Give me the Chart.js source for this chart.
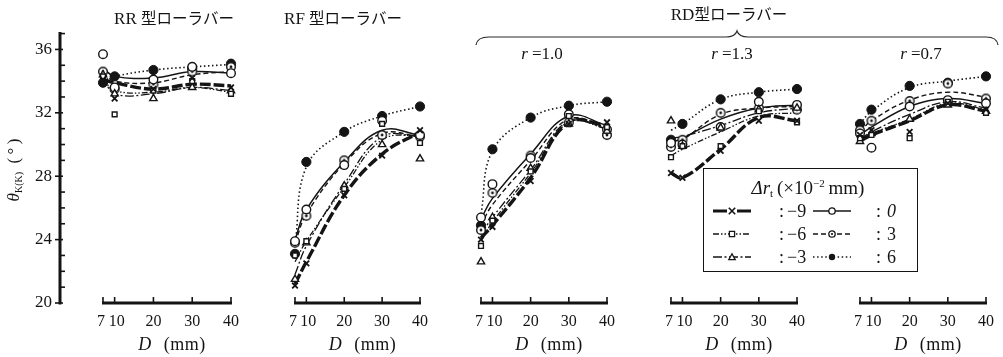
<!DOCTYPE html>
<html>
<head>
<meta charset="utf-8">
<script src="https://cdn.jsdelivr.net/npm/chart.js@4/dist/chart.umd.min.js"></script>
<style>
  html, body { margin: 0; padding: 0; background: #fff; }
  #wrap { position: relative; width: 1003px; height: 357px; overflow: hidden; background: #fff;
          font-family: "Liberation Serif", "DejaVu Serif", serif; color: #141414; }
  #wrap canvas { position: absolute; top: 0; }
  .t { position: absolute; white-space: nowrap; transform: translate(-50%, -50%); line-height: 1; z-index: 3; }
  .jp { font-family: "Noto Sans CJK JP", sans-serif; font-size: 15.5px; }
  .ttl { font-size: 17px; }
  .axt { font-size: 18px; letter-spacing: 0.5px; }
  .axt i { margin-right: 12px; }
  #ytitle { position: absolute; left: 14px; top: 170px; transform: translate(-50%, -50%) rotate(-90deg);
            white-space: nowrap; font-size: 17px; line-height: 1; z-index: 3; }
  #ytitle sub { font-size: 10px; vertical-align: -3px; }
  #legend { position: absolute; left: 703px; top: 168px; width: 215px; height: 104px; box-sizing: border-box;
            border: 1.5px solid #141414; background: #fff; z-index: 4; }
  #legend .h { position: absolute; left: 104px; top: 19px; transform: translate(-50%, -50%); white-space: nowrap;
               font-size: 19px; line-height: 1; }
  #legend .h sup { font-size: 11px; vertical-align: 7px; }
  #legend .h sub { font-size: 11px; vertical-align: -3px; }
  #legend .lb { position: absolute; font-size: 18px; line-height: 1; transform: translateY(-50%); white-space: nowrap; }
  #legend canvas { position: absolute; }
  svg { position: absolute; left: 0; top: 0; z-index: 2; }
</style>
</head>
<body>
<div id="wrap">
  <svg width="1003" height="357">
    <path d="M476,45 Q477,37 489,37 L726,37 Q735,37 737,31 Q739,37 748,37 L986,37 Q997,37 998,45"
          fill="none" stroke="#2a2a2a" stroke-width="1.2"/>
  </svg>
  <div id="ytitle"><i>θ</i><sub>K(K)</sub>&nbsp;&nbsp;(&thinsp;°&thinsp;)</div>
</div>
<script>
// ---- data -------------------------------------------------------------
const dValues = [7, 10, 20, 30, 40];               // roller diameter D (mm)
const deltaR = ['−9', '−6', '−3', '0', '3', '6'];  // Δr_t (×10^-2 mm)
const yTickLabels = [20, 24, 28, 32, 36];
const xTickLabels = [7, 10, 20, 30, 40];
const panelTitles = ['RR', 'RF', 'RD'];
const ratioLabels = ['1.0', '1.3', '0.7'];

// measured points, one row per Δr_t (−9, −6, −3, 0, 3, 6)
const rrPoints = [
  [34.1, 32.9, 33.5, 34.2, 33.6],
  [34.3, 31.9, 33.4, 34.0, 33.2],
  [34.4, 33.2, 32.9, 33.6, 33.4],
  [35.7, 33.6, 34.1, 34.9, 34.5],
  [34.6, 33.5, 33.8, 34.6, 34.9],
  [33.9, 34.3, 34.7, 34.8, 35.1]
];
// smoothed curves, same row order
const rrCurves = [
  [34.1, 33.9, 33.5, 33.8, 33.7],
  [34.2, 33.4, 33.3, 33.6, 33.3],
  [34.3, 33.2, 33.2, 33.6, 33.4],
  [34.8, 34.3, 34.2, 34.6, 34.5],
  [34.5, 34.0, 33.9, 34.4, 34.6],
  [34.0, 34.3, 34.7, 34.9, 35.05]
];

const rfPoints = [
  [21.1, 22.5, 26.8, 29.3, 30.9],
  [23.0, 23.9, 27.2, 31.3, 30.1],
  [21.5, 23.8, 27.4, 30.0, 29.1],
  [23.9, 25.9, 28.7, 31.5, 30.6],
  [23.8, 25.5, 29.0, 30.6, 30.5],
  [23.1, 28.9, 30.8, 31.8, 32.4]
];
const rfCurves = [
  [21.2, 22.6, 26.8, 29.4, 30.8],
  [22.6, 23.9, 27.3, 30.3, 30.6],
  [21.8, 23.6, 27.5, 30.5, 30.5],
  [24.0, 25.9, 28.9, 30.9, 30.6],
  [23.8, 25.6, 28.8, 30.7, 30.5],
  [23.6, 28.6, 30.8, 31.8, 32.4]
];

const rd10Points = [
  [24.0, 24.8, 27.7, 31.3, 31.4],
  [23.6, 25.2, 28.3, 31.8, 31.1],
  [22.6, 25.4, 28.5, 31.3, 30.85],
  [25.4, 27.5, 29.15, 31.9, 30.95],
  [24.6, 26.95, 29.3, 31.4, 30.6],
  [24.9, 29.7, 31.7, 32.45, 32.7]
];
const rd10Curves = [
  [24.1, 24.9, 27.9, 31.4, 31.2],
  [23.9, 25.1, 28.2, 31.4, 31.0],
  [24.3, 25.4, 28.4, 31.5, 31.0],
  [25.3, 26.6, 29.4, 31.8, 31.2],
  [24.9, 26.2, 29.0, 31.6, 31.1],
  [25.6, 29.6, 31.7, 32.45, 32.7]
];

const rd13Points = [
  [28.2, 27.9, 29.6, 31.5, 31.5],
  [29.2, 29.9, 29.9, 32.1, 31.4],
  [31.5, 29.9, 31.05, 32.2, 32.3],
  [30.1, 30.0, 31.1, 32.7, 32.5],
  [29.85, 30.3, 32.0, 32.3, 32.2],
  [30.3, 31.3, 32.85, 33.3, 33.5]
];
const rd13Curves = [
  [28.2, 27.9, 29.7, 31.7, 31.5],
  [29.3, 29.7, 30.8, 31.8, 32.0],
  [30.4, 30.5, 31.2, 32.0, 32.3],
  [30.1, 30.4, 31.6, 32.3, 32.5],
  [30.0, 30.3, 31.9, 32.3, 32.4],
  [30.9, 31.3, 32.85, 33.3, 33.5]
];

const rd07Points = [
  [30.6, 30.9, 30.8, 32.6, 32.2],
  [30.4, 30.6, 30.4, 32.7, 32.0],
  [30.2, 30.7, 31.6, 32.5, 32.1],
  [30.7, 29.8, 32.4, 32.8, 32.6],
  [30.9, 31.5, 32.75, 33.85, 32.9],
  [31.3, 32.2, 33.7, 33.9, 34.3]
];
const rd07Curves = [
  [30.2, 30.6, 31.5, 32.5, 32.1],
  [30.4, 30.7, 31.6, 32.6, 32.2],
  [30.3, 30.8, 31.9, 32.7, 32.3],
  [30.6, 31.1, 32.4, 32.9, 32.6],
  [30.8, 31.5, 32.8, 33.3, 33.0],
  [31.3, 32.1, 33.6, 34.0, 34.3]
];

// ---- layout & styles ----------------------------------------------------
const W = 1003, H = 357;
const INK = '#141414';
const SERIF = '"Liberation Serif", "DejaVu Serif", serif';
const Y_MIN = 20, Y_MAX = 37.1;
const TOP = 32;          // pixel row of Y_MAX
const AXIS_Y = 303;      // pixel row of Y_MIN (x-axis line)
const Y_AXIS_X = 60;
const panelX = [[103, 233], [295, 422], [481, 609], [671, 799], [860, 988]];

function dottedCircle(size, r) {
  const c = document.createElement('canvas');
  c.width = size; c.height = size;
  const g = c.getContext('2d');
  const m = size / 2;
  g.fillStyle = '#fff';
  g.beginPath(); g.arc(m, m, r, 0, Math.PI * 2); g.fill();
  g.lineWidth = 1.4; g.strokeStyle = INK; g.stroke();
  g.fillStyle = INK;
  g.beginPath(); g.arc(m, m, 1.4, 0, Math.PI * 2); g.fill();
  return c;
}

const seriesStyle = [
  { ps: 'crossRot', r: 4,   bg: INK,    pw: 1.8, lw: 3.4, dash: [11, 3],            kind: 'x' },
  { ps: 'rect',     r: 3.4, bg: '#fff', pw: 1.4, lw: 1.3, dash: [6, 2, 1.5, 2, 1.5, 2], kind: 'rect' },
  { ps: 'triangle', r: 4.2, bg: '#fff', pw: 1.4, lw: 1.3, dash: [9, 2.5, 2, 2.5],   kind: 'tri' },
  { ps: 'circle',   r: 4.3, bg: '#fff', pw: 1.4, lw: 1.5, dash: [],                 kind: 'circ' },
  { ps: dottedCircle(12, 4.3), r: 4.3, bg: '#fff', pw: 1.4, lw: 1.4, dash: [5, 3],  kind: 'dot' },
  { ps: 'circle',   r: 4.6, bg: INK,    pw: 1,   lw: 1.6, dash: [1.5, 2.6],         kind: 'fill' }
];

const wrap = document.getElementById('wrap');

// ---- plugins ------------------------------------------------------------
const panelAxis = {
  id: 'panelAxis',
  afterDraw(chart) {
    const ctx = chart.ctx, xs = chart.scales.x, ys = chart.scales.y;
    const y0 = ys.getPixelForValue(Y_MIN);
    ctx.save();
    ctx.strokeStyle = INK;
    ctx.lineWidth = 3;
    ctx.beginPath();
    ctx.moveTo(xs.getPixelForValue(dValues[0]) - 1, y0);
    ctx.lineTo(xs.getPixelForValue(dValues[dValues.length - 1]) + 1, y0);
    ctx.stroke();
    ctx.lineWidth = 1.6;
    xTickLabels.forEach(v => {
      const x = xs.getPixelForValue(v);
      ctx.beginPath(); ctx.moveTo(x, y0); ctx.lineTo(x, y0 - 6); ctx.stroke();
    });
    ctx.restore();
  }
};

const leftAxis = {
  id: 'leftAxis',
  afterDraw(chart) {
    const ctx = chart.ctx, ys = chart.scales.y;
    const x = chart.chartArea.left;
    ctx.save();
    ctx.strokeStyle = INK;
    ctx.lineWidth = 3;
    ctx.beginPath();
    ctx.moveTo(x, ys.getPixelForValue(Y_MAX));
    ctx.lineTo(x, ys.getPixelForValue(Y_MIN) + 1.5);
    ctx.stroke();
    ctx.lineWidth = 1.6;
    for (let v = Y_MIN; v <= Math.floor(Y_MAX); v++) {
      const y = ys.getPixelForValue(v);
      ctx.beginPath();
      if (v % 4 === 0) { ctx.moveTo(x - 5, y); ctx.lineTo(x + 3, y); }
      else { ctx.moveTo(x, y); ctx.lineTo(x + 5, y); }
      ctx.stroke();
    }
    ctx.restore();
  }
};

function addCanvas(left, width) {
  const cv = document.createElement('canvas');
  cv.width = width; cv.height = H;
  cv.style.left = left + 'px';
  cv.style.width = width + 'px';
  cv.style.height = H + 'px';
  wrap.appendChild(cv);
  return cv;
}

const baseOpts = {
  responsive: false,
  animation: false,
  events: [],
  plugins: { legend: { display: false }, tooltip: { enabled: false } }
};

// ---- shared y axis --------------------------------------------------------
new Chart(addCanvas(0, 80), {
  type: 'line',
  data: { datasets: [] },
  options: Object.assign({}, baseOpts, {
    layout: { padding: { left: 0, right: 0, top: TOP, bottom: H - AXIS_Y } },
    scales: {
      x: { display: false },
      y: {
        type: 'linear', min: Y_MIN, max: Y_MAX,
        afterBuildTicks: s => { s.ticks = yTickLabels.map(v => ({ value: v })); },
        afterFit: s => { s.width = Y_AXIS_X; },
        grid: { display: false, drawTicks: false },
        border: { display: false },
        ticks: { padding: 8, color: INK, font: { family: SERIF, size: 17 } }
      }
    }
  }),
  plugins: [leftAxis]
});

// ---- panels -------------------------------------------------------------
function makePanel(points, curves, x0, x1) {
  const pad = 15;
  const cv = addCanvas(x0 - pad, (x1 - x0) + 2 * pad);
  const datasets = [];
  curves.forEach((row, s) => {
    const st = seriesStyle[s];
    datasets.push({
      type: 'line', order: 2,
      data: dValues.map((d, k) => ({ x: d, y: row[k] })),
      borderColor: INK, borderWidth: st.lw, borderDash: st.dash,
      pointRadius: 0, tension: 0.4, fill: false, clip: false
    });
  });
  points.forEach((row, s) => {
    const st = seriesStyle[s];
    datasets.push({
      type: 'scatter', order: 1, showLine: false,
      data: dValues.map((d, k) => ({ x: d, y: row[k] })),
      pointStyle: st.ps, pointRadius: st.r, pointBackgroundColor: st.bg,
      pointBorderColor: INK, pointBorderWidth: st.pw, clip: false
    });
  });
  new Chart(cv, {
    type: 'line',
    data: { datasets },
    options: Object.assign({}, baseOpts, {
      layout: { padding: { left: pad, right: pad, top: TOP, bottom: 0 } },
      scales: {
        x: {
          type: 'linear', min: dValues[0], max: dValues[dValues.length - 1],
          afterBuildTicks: s => { s.ticks = xTickLabels.map(v => ({ value: v })); },
          afterFit: s => { s.height = H - AXIS_Y; },
          grid: { display: false, drawTicks: false },
          border: { display: false },
          ticks: {
            autoSkip: false, maxRotation: 0, minRotation: 0, padding: 9, color: INK,
            font: { family: SERIF, size: 16 },
            callback: v => (v === 7 ? '7\u2005' : v === 10 ? '\u200510' : String(v))
          }
        },
        y: { type: 'linear', display: false, min: Y_MIN, max: Y_MAX }
      }
    }),
    plugins: [panelAxis]
  });
}

const panelData = [
  [rrPoints, rrCurves], [rfPoints, rfCurves],
  [rd10Points, rd10Curves], [rd13Points, rd13Curves], [rd07Points, rd07Curves]
];
panelData.forEach(([p, c], i) => makePanel(p, c, panelX[i][0], panelX[i][1]));

// ---- text -----------------------------------------------------------------
function addText(html, x, y, cls) {
  const d = document.createElement('div');
  d.className = 't ' + (cls || '');
  d.style.left = x + 'px';
  d.style.top = y + 'px';
  d.innerHTML = html;
  wrap.appendChild(d);
}
addText(panelTitles[0] + '&nbsp;<span class="jp">型ローラバー</span>', 174, 18, 'ttl');
addText(panelTitles[1] + '&nbsp;<span class="jp">型ローラバー</span>', 343, 18, 'ttl');
addText(panelTitles[2] + '<span class="jp">型ローラバー</span>', 729, 14, 'ttl');
[2, 3, 4].forEach((p, k) => {
  const cx = (panelX[p][0] + panelX[p][1]) / 2 - 3;
  addText('<i>r</i>&nbsp;=' + ratioLabels[k], cx, 53, 'ttl');
});
panelX.forEach(([a, b]) => addText('<i>D</i>(mm)', (a + b) / 2 + 4, 344, 'axt'));

// ---- legend -----------------------------------------------------------------
function drawMarker(g, kind, x, y) {
  g.strokeStyle = INK; g.fillStyle = '#fff'; g.lineWidth = 1.3;
  const r = 3.2;
  g.beginPath();
  if (kind === 'x') {
    g.lineWidth = 1.6;
    g.moveTo(x - r, y - r); g.lineTo(x + r, y + r);
    g.moveTo(x + r, y - r); g.lineTo(x - r, y + r);
    g.stroke();
  } else if (kind === 'rect') {
    g.rect(x - 2.6, y - 2.6, 5.2, 5.2); g.fill(); g.stroke();
  } else if (kind === 'tri') {
    g.moveTo(x, y - r); g.lineTo(x + r, y + r * 0.8); g.lineTo(x - r, y + r * 0.8); g.closePath();
    g.fill(); g.stroke();
  } else {
    g.arc(x, y, r, 0, Math.PI * 2);
    if (kind === 'fill') { g.fillStyle = INK; g.fill(); }
    else { g.fill(); g.stroke(); }
    if (kind === 'dot') { g.beginPath(); g.fillStyle = INK; g.arc(x, y, 1.1, 0, Math.PI * 2); g.fill(); }
  }
}

const legend = document.createElement('div');
legend.id = 'legend';
legend.innerHTML = '<div class="h"><i>Δr</i><sub>t</sub>&thinsp;(×10<sup>−2</sup>&thinsp;mm)</div>';
wrap.appendChild(legend);
const legendRows = [42, 65, 88];
const legendCols = [[8, 75, 83], [108, 172, 183]];  // sample x, colon x, value x
deltaR.forEach((lab, s) => {
  const col = Math.floor(s / 3), row = s % 3;
  const st = seriesStyle[s];
  const c = document.createElement('canvas');
  c.width = 40; c.height = 14;
  c.style.left = legendCols[col][0] + 'px';
  c.style.top = (legendRows[row] - 7) + 'px';
  const g = c.getContext('2d');
  g.strokeStyle = INK;
  g.lineWidth = s === 0 ? 3 : st.lw;
  g.setLineDash(s === 0 ? [] : st.dash);
  g.beginPath(); g.moveTo(1, 7); g.lineTo(39, 7); g.stroke();
  g.setLineDash([]);
  if (s === 0) { g.fillStyle = '#fff'; g.fillRect(15, 2, 10, 10); }
  drawMarker(g, st.kind, 20, 7);
  legend.appendChild(c);
  const colon = document.createElement('div');
  colon.className = 'lb';
  colon.style.left = legendCols[col][1] + 'px';
  colon.style.top = legendRows[row] + 'px';
  colon.textContent = ':';
  legend.appendChild(colon);
  const v = document.createElement('div');
  v.className = 'lb';
  v.style.left = legendCols[col][2] + 'px';
  v.style.top = legendRows[row] + 'px';
  v.innerHTML = col === 1 && s === 3 ? '<i>' + lab + '</i>' : lab;
  legend.appendChild(v);
});
</script>
</body>
</html>
